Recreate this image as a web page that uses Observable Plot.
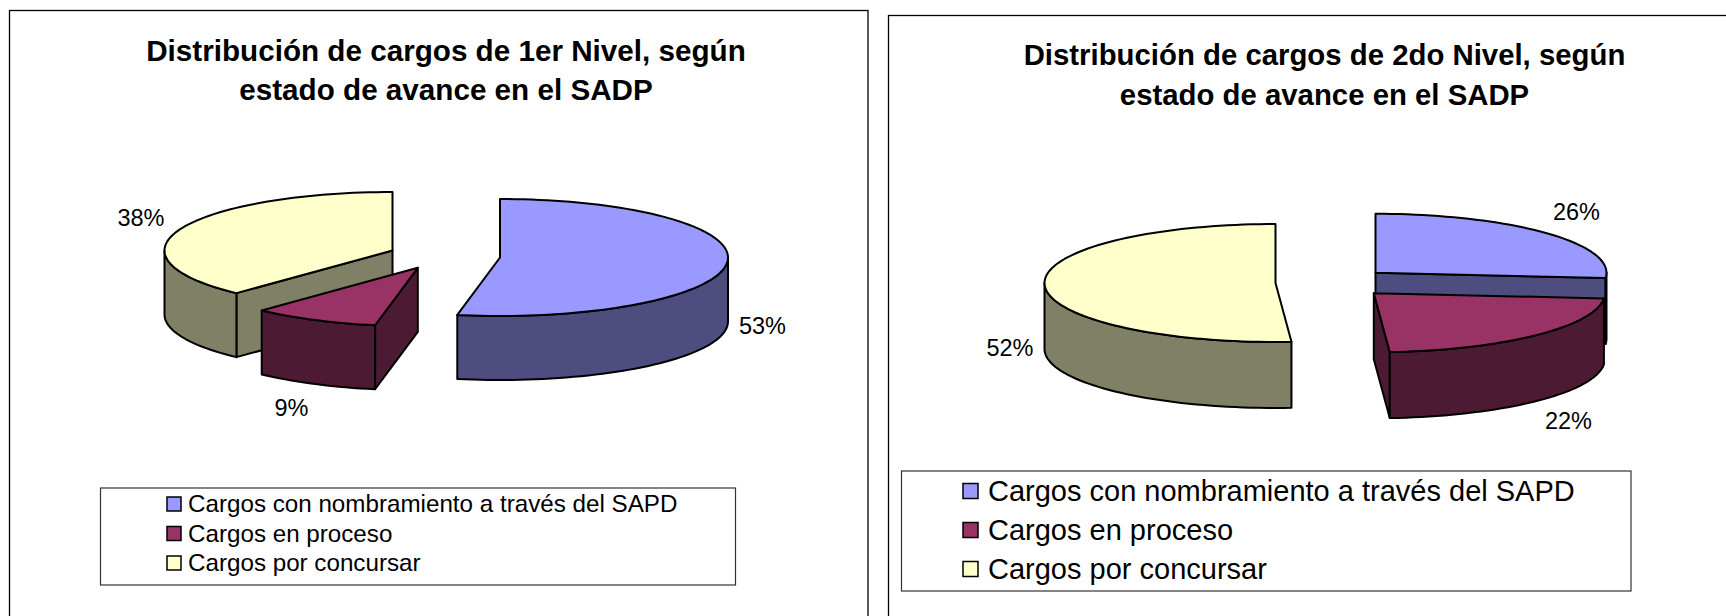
<!DOCTYPE html>
<html><head><meta charset="utf-8">
<script src="https://cdn.jsdelivr.net/npm/d3@7"></script>
<script src="https://cdn.jsdelivr.net/npm/@observablehq/plot@0.6"></script>
<style>html,body{margin:0;padding:0;background:#fff;overflow:hidden}svg{display:block}</style>
</head><body><div id="chart"></div>
<script>
const categories = ["Cargos con nombramiento a través del SAPD", "Cargos en proceso", "Cargos por concursar"];
const shares1 = [53, 9, 38];
const shares2 = [26.4, 22.5, 51.1];
const labels1 = ["53%", "9%", "38%"];
const labels2 = ["26%", "22%", "52%"];
const titles1 = ["Distribución de cargos de 1er Nivel, según", "estado de avance en el SADP"];
const titles2 = ["Distribución de cargos de 2do Nivel, según", "estado de avance en el SADP"];
const topColors = ["#9999FF", "#993366", "#FFFFCC"];
const sideColors = ["#4D4D80", "#4D1A33", "#808066"];

const FONT = "Liberation Sans, Arial, sans-serif";
const panels = [
  {shares: shares1, labels: labels1, titles: titles1, rx: 228, ry: 58.5, depth: 64, order: [2, 1, 0],
   centers: [[499.5, 257], [417.3, 267.3], [392, 250]],
   labelPos: [[762, 326], [291, 408], [140.5, 218]],
   frame: [9.5, 868, 10.5, 640], titleX: 445.5, titleY: [51, 90], titleSize: 29.65,
   box: [100.5, 735.5, 488, 585], swX: [167, 181], rowY: [504, 533.5, 563], textX: 187.5, legendSize: 24.2},
  {shares: shares2, labels: labels2, titles: titles2, rx: 231, ry: 59, depth: 66, order: [2, 0, 1],
   centers: [[1375, 272.3], [1373.3, 292.7], [1275, 282.5]],
   labelPos: [[1576, 212], [1568, 421], [1009.5, 348]],
   frame: [888.5, 1760, 15.5, 640], titleX: 1324, titleY: [55.5, 95], titleSize: 29.35,
   box: [901.5, 1631, 471, 591], swX: [963, 978], rowY: [491, 530, 569], textX: 987.5, legendSize: 29}
];

function arcPoints(c, rx, ry, a0, a1, dz) {
  const n = Math.max(2, Math.ceil(Math.abs(a1 - a0) / 2));
  return d3.range(n + 1).map(i => {
    const a = (a0 + (a1 - a0) * i / n) * Math.PI / 180;
    return {x: c[0] + rx * Math.sin(a), y: c[1] - ry * Math.cos(a) + dz};
  });
}
function closed(pts) { return [...pts, pts[0]]; }

const marks = [];
const poly = (pts, fill, strokeWidth = 2) => marks.push(Plot.line(closed(pts), {
  x: "x", y: "y", fill, stroke: "#000", strokeWidth, strokeLinejoin: "round", curve: "linear"
}));
const box = ([x1, x2, y1, y2], stroke, strokeWidth) => marks.push(Plot.rect([0], {
  x1: () => x1, x2: () => x2, y1: () => y1, y2: () => y2, fill: "none", stroke, strokeWidth
}));
function swatch(p, i, h) {
  marks.push(Plot.rect([0], {
    x1: () => p.swX[0], x2: () => p.swX[1],
    y1: () => p.rowY[i] - h, y2: () => p.rowY[i] + h,
    fill: topColors[i], stroke: "#000", strokeWidth: 1.5
  }));
}

for (const p of panels) {
  box(p.frame, "#000", 1.3);
  box(p.box, "#333", 1.2);
  // slice angles, clockwise from twelve o'clock
  let acc = 0;
  const slices = p.shares.map((s, i) => {
    const a0 = acc * 3.6; acc += s;
    return {i, a0, a1: acc * 3.6, c: p.centers[i]};
  });
  for (const k of p.order) {
    const {c, a0, a1, i} = slices[k];
    const ctr0 = {x: c[0], y: c[1]}, ctr1 = {x: c[0], y: c[1] + p.depth};
    const radial = a => {
      const e0 = arcPoints(c, p.rx, p.ry, a, a, 0)[0], e1 = arcPoints(c, p.rx, p.ry, a, a, p.depth)[0];
      poly([ctr0, e0, e1, ctr1], sideColors[i]);
    };
    // cut faces turned towards the viewer
    if (Math.sin(a0 * Math.PI / 180) < -1e-6) radial(a0);
    if (Math.sin(a1 * Math.PI / 180) > 1e-6) radial(a1);
    // outer wall, front half only
    const v0 = Math.max(a0, 90), v1 = Math.min(a1, 270);
    if (v1 > v0) {
      poly([...arcPoints(c, p.rx, p.ry, v0, v1, 0), ...arcPoints(c, p.rx, p.ry, v1, v0, p.depth)], sideColors[i]);
    }
    poly([ctr0, ...arcPoints(c, p.rx, p.ry, a0, a1, 0)], topColors[i]);
  }
  marks.push(Plot.text(p.labels, {
    x: (d, i) => p.labelPos[i][0], y: (d, i) => p.labelPos[i][1], text: d => d,
    fontSize: 23.5, fontFamily: FONT, fill: "#000", textAnchor: "middle"
  }));
  marks.push(Plot.text(p.titles, {
    x: () => p.titleX, y: (d, i) => p.titleY[i], text: d => d,
    fontSize: p.titleSize, fontWeight: "bold", fontFamily: FONT, fill: "#000", textAnchor: "middle"
  }));
  const h = (p.swX[1] - p.swX[0]) / 2;
  categories.forEach((c, i) => swatch(p, i, h));
  marks.push(Plot.text(categories, {
    x: () => p.textX, y: (d, i) => p.rowY[i], text: d => d,
    fontSize: p.legendSize, fontFamily: FONT, fill: "#000", textAnchor: "start"
  }));
}

const chart = Plot.plot({
  width: 1726, height: 616,
  margin: 0,
  x: {domain: [0, 1726], range: [0, 1726], axis: null},
  y: {domain: [0, 616], range: [0, 616], axis: null},
  style: {background: "#fff"},
  marks
});
document.getElementById("chart").append(chart);
</script>
</body></html>
